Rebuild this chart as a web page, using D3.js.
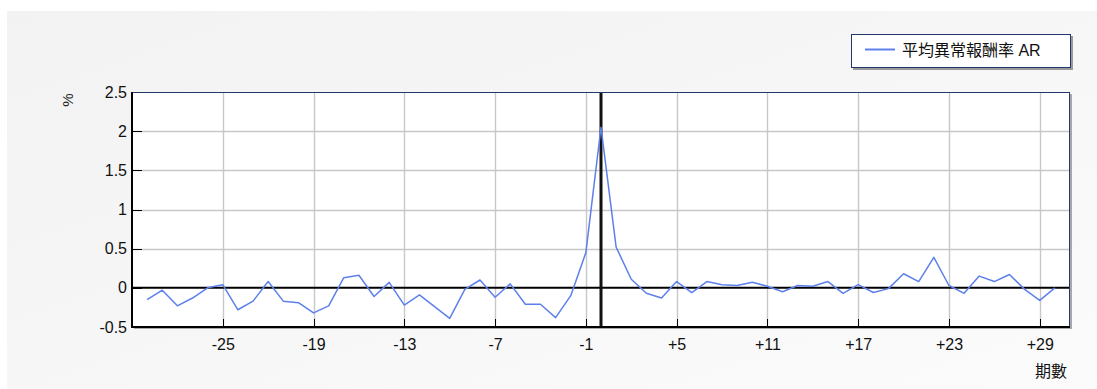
<!DOCTYPE html>
<html>
<head>
<meta charset="utf-8">
<script src="https://cdn.jsdelivr.net/npm/d3@7"></script>
<style>
  html, body { margin: 0; padding: 0; background: #ffffff; }
  svg { display: block; font-family: "Liberation Sans", Arial, "Noto Sans CJK TC", sans-serif; }
</style>
</head>
<body>
<svg id="chart" width="1097" height="389"></svg>
<script>
const periods = [-30,-29,-28,-27,-26,-25,-24,-23,-22,-21,-20,-19,-18,-17,-16,-15,-14,-13,-12,-11,-10,-9,-8,-7,-6,-5,-4,-3,-2,-1,0,1,2,3,4,5,6,7,8,9,10,11,12,13,14,15,16,17,18,19,20,21,22,23,24,25,26,27,28,29,30];
const arValues = [-0.15,-0.03,-0.23,-0.13,0.00,0.04,-0.28,-0.17,0.08,-0.17,-0.19,-0.32,-0.23,0.13,0.16,-0.11,0.07,-0.22,-0.09,-0.24,-0.39,-0.02,0.10,-0.12,0.05,-0.21,-0.21,-0.38,-0.10,0.45,2.05,0.52,0.11,-0.07,-0.13,0.08,-0.06,0.08,0.04,0.03,0.07,0.02,-0.05,0.03,0.02,0.08,-0.07,0.04,-0.06,-0.01,0.18,0.08,0.39,0.03,-0.07,0.15,0.08,0.17,-0.02,-0.16,0.00];
const xTickValues = [-25,-19,-13,-7,-1,5,11,17,23,29];
const xTickLabels = ["-25","-19","-13","-7","-1","+5","+11","+17","+23","+29"];
const yTickValues = [-0.5,0,0.5,1,1.5,2,2.5];
const yTickLabels = ["-0.5","0","0.5","1","1.5","2","2.5"];
const seriesName = "平均異常報酬率 AR";
const yAxisTitle = "%";
const xAxisTitle = "期數";

const svg = d3.select("#chart");
const W = 1097, H = 389;
const plot = {left: 132, right: 1070, top: 92, bottom: 327};

// background
const defs = svg.append("defs");
const grad = defs.append("linearGradient").attr("id", "bg").attr("x1", "0").attr("y1", "0").attr("x2", "1").attr("y2", "1");
grad.append("stop").attr("offset", "0%").attr("stop-color", "#f2f2f2");
grad.append("stop").attr("offset", "100%").attr("stop-color", "#fbfbfb");
svg.append("rect").attr("x", 0).attr("y", 0).attr("width", W).attr("height", H).attr("fill", "#ffffff");
svg.append("rect").attr("x", 7).attr("y", 11).attr("width", W - 7).attr("height", H - 11).attr("fill", "url(#bg)");

const x = d3.scaleLinear().domain([-31, 31]).range([plot.left, plot.right]);
const y = d3.scaleLinear().domain([-0.5, 2.5]).range([plot.bottom, plot.top]);

// plot shadow + background
svg.append("rect").attr("x", plot.left + 2).attr("y", plot.top + 2)
  .attr("width", plot.right - plot.left).attr("height", plot.bottom - plot.top)
  .attr("fill", "#a8a8a8");
svg.append("rect").attr("x", plot.left).attr("y", plot.top)
  .attr("width", plot.right - plot.left).attr("height", plot.bottom - plot.top)
  .attr("fill", "#ffffff");

// grid lines
const grid = svg.append("g");
grid.selectAll(".hg").data(yTickValues.filter(v => v !== 0 && v !== 2.5 && v !== -0.5)).enter().append("line")
  .attr("x1", plot.left).attr("x2", plot.right)
  .attr("y1", d => Math.round(y(d)) + 0.5).attr("y2", d => Math.round(y(d)) + 0.5)
  .attr("stroke", "#c8c8c8").attr("stroke-width", 1.4);
grid.selectAll(".vg").data(xTickValues).enter().append("line")
  .attr("x1", d => Math.round(x(d)) + 0.5).attr("x2", d => Math.round(x(d)) + 0.5)
  .attr("y1", plot.top).attr("y2", plot.bottom)
  .attr("stroke", "#c8c8c8").attr("stroke-width", 1.4);

// inner tick marks
grid.selectAll(".yt").data(yTickValues).enter().append("line")
  .attr("x1", plot.left).attr("x2", plot.left + 10)
  .attr("y1", d => Math.round(y(d)) + 0.5).attr("y2", d => Math.round(y(d)) + 0.5)
  .attr("stroke", "#000").attr("stroke-width", 1);
grid.selectAll(".xt").data(xTickValues).enter().append("line")
  .attr("x1", d => Math.round(x(d)) + 0.5).attr("x2", d => Math.round(x(d)) + 0.5)
  .attr("y1", plot.bottom - 8).attr("y2", plot.bottom)
  .attr("stroke", "#000").attr("stroke-width", 1);

// zero lines
svg.append("line").attr("x1", plot.left).attr("x2", plot.right)
  .attr("y1", y(0)).attr("y2", y(0)).attr("stroke", "#000").attr("stroke-width", 2);
svg.append("line").attr("x1", x(0)).attr("x2", x(0))
  .attr("y1", plot.top).attr("y2", plot.bottom).attr("stroke", "#111").attr("stroke-width", 3);

// series line
const line = d3.line().x((d, i) => x(periods[i])).y(d => y(d));
svg.append("path").datum(arValues).attr("d", line)
  .attr("fill", "none").attr("stroke", "#5d80ea").attr("stroke-width", 1.5)
  .attr("stroke-linejoin", "round");

// plot border
svg.append("rect").attr("x", plot.left + 0.5).attr("y", plot.top + 0.5)
  .attr("width", plot.right - plot.left - 1).attr("height", plot.bottom - plot.top - 1)
  .attr("fill", "none").attr("stroke", "#23386a").attr("stroke-width", 1);
svg.append("line").attr("x1", plot.left).attr("x2", plot.left)
  .attr("y1", plot.top).attr("y2", plot.bottom + 1).attr("stroke", "#000").attr("stroke-width", 2);
svg.append("line").attr("x1", plot.left - 1).attr("x2", plot.right)
  .attr("y1", plot.bottom).attr("y2", plot.bottom).attr("stroke", "#000").attr("stroke-width", 2);

// axes labels
const yAxis = d3.axisLeft(y).tickValues(yTickValues).tickSize(0).tickPadding(5)
  .tickFormat((d, i) => yTickLabels[i]);
const gy = svg.append("g").attr("transform", `translate(${plot.left},0)`).call(yAxis);
gy.select(".domain").remove();
gy.selectAll("text").attr("font-size", 16).attr("fill", "#111").attr("font-family", "Liberation Sans, Arial, sans-serif");

const xAxis = d3.axisBottom(x).tickValues(xTickValues).tickSize(0).tickPadding(12)
  .tickFormat((d, i) => xTickLabels[i]);
const gx = svg.append("g").attr("transform", `translate(0,${plot.bottom})`).call(xAxis);
gx.select(".domain").remove();
gx.selectAll("text").attr("font-size", 16).attr("fill", "#111").attr("font-family", "Liberation Sans, Arial, sans-serif");

// axis titles
svg.append("text").attr("transform", "translate(73,100) rotate(-90)")
  .attr("text-anchor", "middle").attr("font-size", 15).attr("fill", "#222").text(yAxisTitle);
svg.append("text").attr("x", 1067).attr("y", 377).attr("text-anchor", "end")
  .attr("font-size", 16).attr("fill", "#111").attr("font-family", "Noto Sans CJK TC, sans-serif").text(xAxisTitle);

// legend
const lg = svg.append("g");
lg.append("rect").attr("x", 853).attr("y", 36).attr("width", 220).attr("height", 34).attr("fill", "#9a9a9a");
lg.append("rect").attr("x", 851.5).attr("y", 34.5).attr("width", 219).attr("height", 33)
  .attr("fill", "#ffffff").attr("stroke", "#23386a").attr("stroke-width", 1);
lg.append("line").attr("x1", 865).attr("x2", 895).attr("y1", 49.5).attr("y2", 49.5)
  .attr("stroke", "#5d80ea").attr("stroke-width", 2);
lg.append("text").attr("x", 902).attr("y", 56).attr("font-size", 16).attr("fill", "#111")
  .attr("font-family", "Liberation Sans, Noto Sans CJK TC, sans-serif").text(seriesName);
</script>
</body>
</html>
